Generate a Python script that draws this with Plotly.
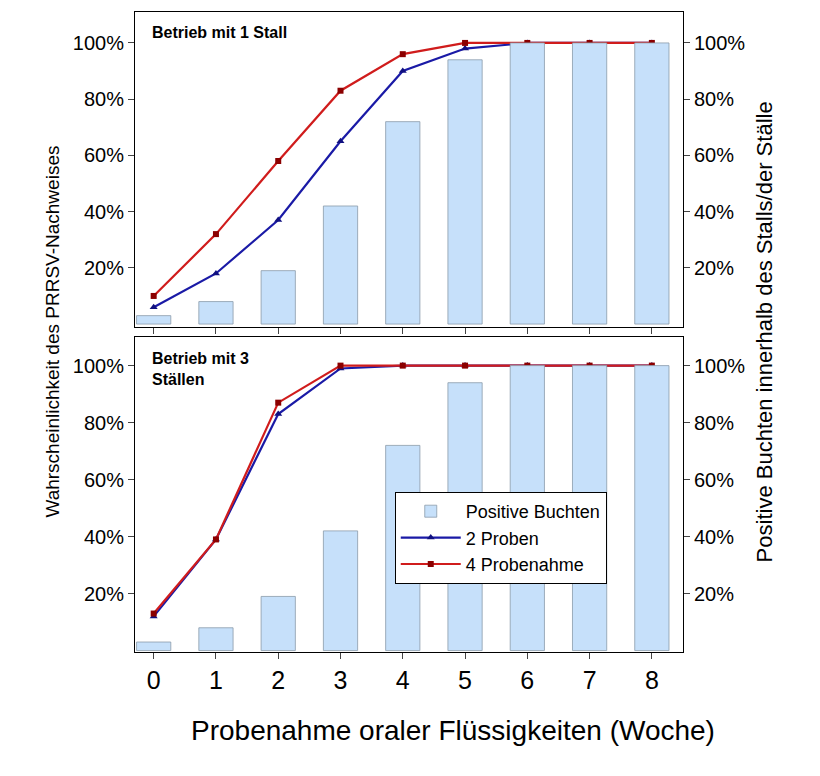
import plotly.graph_objects as go

weeks = [0, 1, 2, 3, 4, 5, 6, 7, 8]
positive_pens = [3, 8, 19, 42, 72, 94, 100, 100, 100]

top_2_proben = [6, 18, 37, 65, 90, 98, 100, 100, 100]
top_4_proben = [10, 32, 58, 83, 96, 100, 100, 100, 100]
bot_2_proben = [12, 39, 83, 99, 100, 100, 100, 100, 100]
bot_4_proben = [13, 39, 87, 100, 100, 100, 100, 100, 100]

tick_vals = [20, 40, 60, 80, 100]
tick_text = ["20%", "40%", "60%", "80%", "100%"]

FONT = "Liberation Sans, Arial, sans-serif"
BAR_COLOR = "#c6e0fa"
BLUE = "#1a1aa6"
RED = "#d01c1c"

fig = go.Figure()

panels = [
    ("x", "y", "y3", top_2_proben, top_4_proben, True),
    ("x2", "y2", "y4", bot_2_proben, bot_4_proben, False),
]
for xa, ya, yr, p2, p4, show in panels:
    fig.add_trace(go.Bar(
        x=weeks, y=positive_pens, xaxis=xa, yaxis=yr, width=0.55,
        marker=dict(color=BAR_COLOR, line=dict(color="#8a9aaa", width=0.8)),
        name="Positive Buchten", showlegend=show, legendrank=1,
    ))
    fig.add_trace(go.Scatter(
        x=weeks, y=p2, xaxis=xa, yaxis=ya, mode="lines+markers",
        line=dict(color=BLUE, width=2.2),
        marker=dict(symbol="triangle-up", size=7, color="#101080"),
        name="2 Proben", showlegend=show, legendrank=2,
    ))
    fig.add_trace(go.Scatter(
        x=weeks, y=p4, xaxis=xa, yaxis=ya, mode="lines+markers",
        line=dict(color=RED, width=2.2),
        marker=dict(symbol="square", size=6, color="#8b0000"),
        name="4 Probenahme", showlegend=show, legendrank=3,
    ))

xcommon = dict(range=[-0.3, 8.5], showline=True, linecolor="black", linewidth=1,
               mirror=True, showgrid=False, zeroline=False,
               tickvals=weeks, ticks="outside", ticklen=6,
               tickfont=dict(size=25, color="black"))
ycommon = dict(showline=True, linecolor="black", linewidth=1, showgrid=False,
               zeroline=False, tickvals=tick_vals, ticktext=tick_text,
               ticks="outside", ticklen=6, tickfont=dict(size=20, color="black"))

fig.update_layout(
    width=820, height=776,
    margin=dict(l=127, r=145, t=4, b=132),
    plot_bgcolor="white", paper_bgcolor="white",
    font=dict(family=FONT, color="black"),
    barmode="overlay",
    xaxis=dict(xcommon, domain=[0, 1], anchor="y", showticklabels=False),
    xaxis2=dict(xcommon, domain=[0, 1], anchor="y2"),
    yaxis=dict(ycommon, domain=[0.508, 1], range=[-1, 111], anchor="x"),
    yaxis2=dict(ycommon, domain=[0, 0.492], range=[-0.5, 110], anchor="x2"),
    yaxis3=dict(ycommon, range=[-1, 111], overlaying="y", side="right", anchor="x"),
    yaxis4=dict(ycommon, range=[-0.5, 110], overlaying="y2", side="right", anchor="x2"),
    legend=dict(x=0.474, y=0.25, xanchor="left", yanchor="top",
                bgcolor="white", bordercolor="black", borderwidth=1,
                font=dict(size=18), traceorder="normal",
                itemwidth=60, tracegroupgap=6),
    annotations=[
        dict(text="<b>Betrieb mit 1 Stall</b>", xref="paper", yref="paper",
             x=0.027, y=0.985, xanchor="left", yanchor="top", showarrow=False,
             font=dict(size=16)),
        dict(text="<b>Betrieb mit 3<br>Ställen</b>", xref="paper", yref="paper",
             x=0.027, y=0.475, xanchor="left", yanchor="top", showarrow=False,
             align="left", font=dict(size=16)),
        dict(text="Wahrscheinlichkeit des PRRSV-Nachweises", xref="paper", yref="paper",
             x=-0.175, y=0.5, textangle=-90, showarrow=False, font=dict(size=19)),
        dict(text="Positive Buchten innerhalb des Stalls/der Ställe", xref="paper",
             yref="paper", x=1.175, y=0.5, textangle=-90, showarrow=False,
             font=dict(size=22)),
        dict(text="Probenahme oraler Flüssigkeiten (Woche)", xref="paper", yref="paper",
             x=0.58, y=-0.095, yanchor="top", showarrow=False, font=dict(size=28)),
    ],
)

fig.write_html("out.html")
